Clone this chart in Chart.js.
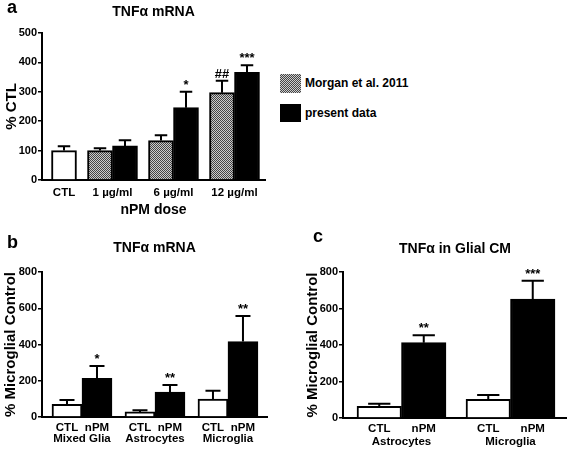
<!DOCTYPE html>
<html>
<head>
<meta charset="utf-8">
<script src="https://cdn.jsdelivr.net/npm/chart.js@4"></script>
<style>
  body { margin: 0; background: #fff; }
  #wrap { position: relative; width: 567px; height: 453px; overflow: hidden;
          font-family: 'Liberation Sans', Arial, sans-serif; font-weight: bold; color: #000; }
  #wrap canvas, .letter, .swatch, .legtext { position: absolute; }
  .letter { font-size: 18px; line-height: 18px; }
  .swatch { left: 280px; width: 21px; }
  .legtext { left: 305px; font-size: 12px; white-space: nowrap; }
  .checker { background-image: repeating-conic-gradient(#444 0% 25%, #ccc 0% 50%); background-size: 2px 2px; }
</style>
</head>
<body>
<div id="wrap">
  <canvas id="chartA" width="280" height="220" style="left:0;top:0"></canvas>
  <canvas id="chartB" width="280" height="233" style="left:0;top:220px"></canvas>
  <canvas id="chartC" width="287" height="233" style="left:280px;top:220px"></canvas>

  <div class="letter" style="left:7px;top:-2px">a</div>
  <div class="letter" style="left:7px;top:233px">b</div>
  <div class="letter" style="left:313px;top:227px">c</div>

  <div class="swatch checker" style="top:74px;height:19px"></div>
  <div class="legtext" style="top:74px;line-height:19px">Morgan et al. 2011</div>
  <div class="swatch" style="top:104px;height:18px;background:#000"></div>
  <div class="legtext" style="top:104px;line-height:18px">present data</div>
</div>
<script>
// panel a - dose response
const doseLabels = ['CTL', '1 µg/ml', '6 µg/ml', '12 µg/ml'];
const ctlA = [100, null, null, null];
const ctlAErr = [15, null, null, null];
const morganA = [null, 100, 134, 297];
const morganAErr = [null, 8, 18, 41];
const morganASig = ['', '', '', '##'];
const presentA = [null, 116, 246, 366];
const presentAErr = [null, 19, 54, 24];
const presentASig = ['', '', '*', '***'];

// panel b - mRNA by cell type
const cellLabels = ['Mixed Glia', 'Astrocytes', 'Microglia'];
const ctlB = [70, 28, 99];
const ctlBErr = [24, 9, 46];
const npmB = [213, 138, 416];
const npmBErr = [68, 39, 141];
const npmBSig = ['*', '**', '**'];

// panel c - TNFa in conditioned medium
const cmLabels = ['Astrocytes', 'Microglia'];
const ctlC = [64, 102];
const ctlCErr = [14, 24];
const npmC = [413, 652];
const npmCErr = [40, 100];
const npmCSig = ['**', '***'];

const FONT = "'Liberation Sans', Arial, sans-serif";
Chart.defaults.font.family = FONT;
Chart.defaults.font.weight = 'bold';
Chart.defaults.color = '#000';

function checker() {
    const c = document.createElement('canvas');
    c.width = c.height = 2;
    const g = c.getContext('2d');
    g.fillStyle = '#ccc';
    g.fillRect(0, 0, 2, 2);
    g.fillStyle = '#444';
    g.fillRect(0, 0, 1, 1);
    g.fillRect(1, 1, 1, 1);
    return g.createPattern(c, 'repeat');
}

// bars side by side inside a group, a gap (in bar widths) between groups
function placeBars(seriesList, gap) {
    const xs = seriesList.map(() => []);
    const centers = [];
    let cursor = 0;
    for (let i = 0; i < seriesList[0].length; i++) {
        const start = cursor;
        seriesList.forEach((vals, s) => {
            if (vals[i] != null) { xs[s][i] = cursor + 0.5; cursor += 1; }
        });
        centers.push((start + cursor) / 2);
        cursor += gap;
    }
    return { xs, centers };
}

function points(values, errs, sigs, xs) {
    return values
        .map((v, i) => v == null ? null : { x: xs[i], y: v, err: errs[i], sig: sigs ? sigs[i] : '' })
        .filter(Boolean);
}

const errorBars = {
    id: 'errorBars',
    afterDatasetsDraw(chart) {
        const ctx = chart.ctx;
        const yScale = chart.scales.y;
        ctx.save();
        ctx.strokeStyle = '#000';
        ctx.fillStyle = '#000';
        ctx.lineWidth = 2;
        ctx.font = 'bold 13px ' + FONT;
        ctx.textAlign = 'center';
        ctx.textBaseline = 'alphabetic';
        chart.data.datasets.forEach((ds, d) => {
            chart.getDatasetMeta(d).data.forEach((bar, j) => {
                const pt = ds.data[j];
                const top = yScale.getPixelForValue(pt.y + pt.err);
                const cap = bar.width / 4;
                ctx.beginPath();
                ctx.moveTo(bar.x, bar.y);
                ctx.lineTo(bar.x, top);
                ctx.moveTo(bar.x - cap, top);
                ctx.lineTo(bar.x + cap, top);
                ctx.stroke();
                if (pt.sig) ctx.fillText(pt.sig, bar.x, top - 3);
            });
        });
        ctx.restore();
    }
};

// CTL / nPM written under each bar
const barNames = {
    id: 'barNames',
    afterDraw(chart, args, opts) {
        if (!opts.display) return;
        const ctx = chart.ctx;
        ctx.save();
        ctx.fillStyle = '#000';
        ctx.font = 'bold 11.5px ' + FONT;
        ctx.textAlign = 'center';
        ctx.textBaseline = 'middle';
        chart.data.datasets.forEach((ds, d) => {
            chart.getDatasetMeta(d).data.forEach(bar => {
                ctx.fillText(ds.label, bar.x, chart.chartArea.bottom + opts.offset);
            });
        });
        ctx.restore();
    }
};

function barSet(label, data, fill) {
    return {
        label, data,
        backgroundColor: fill,
        borderColor: '#000',
        borderWidth: 2,
        grouped: false,
        barPercentage: 1,
        categoryPercentage: 1
    };
}

function makeOptions(o) {
    return {
        responsive: false,
        animation: false,
        devicePixelRatio: 1,
        layout: { padding: { right: o.padRight, left: 0, top: 0, bottom: 0 } },
        plugins: {
            legend: { display: false },
            tooltip: { enabled: false },
            title: {
                display: true, text: o.title, fullSize: false,
                font: { size: 14, weight: 'bold' }, color: '#000',
                padding: { top: o.titleTop, bottom: o.titleBottom }
            },
            barNames: { display: o.barNames, offset: o.namesOffset }
        },
        scales: {
            x: {
                type: 'linear', min: o.xMin, max: o.xMax, offset: false, bounds: 'data',
                grid: { display: false, drawTicks: false },
                border: { display: true, color: '#000', width: 2 },
                afterBuildTicks: s => { s.ticks = o.centers.map(v => ({ value: v })); },
                afterFit: s => { s.height = o.xHeight; },
                ticks: {
                    autoSkip: false, maxRotation: 0, minRotation: 0, padding: o.tickPad,
                    color: '#000', font: { size: 11.5, weight: 'bold' },
                    callback: (v, i) => o.labels[i]
                },
                title: {
                    display: !!o.xTitle, text: o.xTitle || '', color: '#000',
                    font: { size: 14, weight: 'bold' }, padding: { top: 0, bottom: 1.6 }
                }
            },
            y: {
                min: 0, max: o.yMax,
                ticks: { stepSize: o.yStep, padding: 1, color: '#000', font: { size: 11, weight: 'bold' } },
                grid: { drawOnChartArea: false, drawTicks: true, tickLength: 4, color: '#000', lineWidth: 1.5 },
                border: { display: true, color: '#000', width: 2 },
                afterFit: s => { s.width = o.yWidth; },
                title: {
                    display: true, text: o.yTitle, color: '#000',
                    font: { size: 15, weight: 'bold' }, padding: { top: o.yTitlePad, bottom: 0 }
                }
            }
        }
    };
}

const hatch = checker();

// panel a
const layA = placeBars([ctlA, morganA, presentA], 0.44);
new Chart(document.getElementById('chartA'), {
    type: 'bar',
    data: {
        datasets: [
            barSet('CTL', points(ctlA, ctlAErr, null, layA.xs[0]), '#fff'),
            barSet('Morgan et al. 2011', points(morganA, morganAErr, morganASig, layA.xs[1]), hatch),
            barSet('present data', points(presentA, presentAErr, presentASig, layA.xs[2]), '#000')
        ]
    },
    options: makeOptions({
        title: 'TNFα mRNA', titleTop: 3.6, titleBottom: 12.6, padRight: 15,
        xMin: -0.38, xMax: 8.54, centers: layA.centers, labels: doseLabels,
        xHeight: 40, tickPad: 6, xTitle: 'nPM dose',
        yMax: 500, yStep: 100, yWidth: 42, yTitle: '% CTL', yTitlePad: 3,
        barNames: false
    }),
    plugins: [errorBars, barNames]
});

// panel b
const layB = placeBars([ctlB, npmB], 0.433);
new Chart(document.getElementById('chartB'), {
    type: 'bar',
    data: {
        datasets: [
            barSet('CTL', points(ctlB, ctlBErr, null, layB.xs[0]), '#fff'),
            barSet('nPM', points(npmB, npmBErr, npmBSig, layB.xs[1]), '#000')
        ]
    },
    options: makeOptions({
        title: 'TNFα mRNA', titleTop: 19.6, titleBottom: 15.6, padRight: 13,
        xMin: -0.333, xMax: 7.167, centers: layB.centers, labels: cellLabels,
        xHeight: 36, tickPad: 15,
        yMax: 800, yStep: 200, yWidth: 42, yTitle: '% Microglial Control', yTitlePad: 2,
        barNames: true, namesOffset: 11
    }),
    plugins: [errorBars, barNames]
});

// panel c
const layC = placeBars([ctlC, npmC], 0.45);
new Chart(document.getElementById('chartC'), {
    type: 'bar',
    data: {
        datasets: [
            barSet('CTL', points(ctlC, ctlCErr, null, layC.xs[0]), '#fff'),
            barSet('nPM', points(npmC, npmCErr, npmCSig, layC.xs[1]), '#000')
        ]
    },
    options: makeOptions({
        title: 'TNFα in Glial CM', titleTop: 20.6, titleBottom: 14.6, padRight: 0,
        xMin: -0.315, xMax: 4.72, centers: layC.centers, labels: cmLabels,
        xHeight: 35, tickPad: 17,
        yMax: 800, yStep: 200, yWidth: 63, yTitle: '% Microglial Control', yTitlePad: 24,
        barNames: true, namesOffset: 11
    }),
    plugins: [errorBars, barNames]
});
</script>
</body>
</html>
